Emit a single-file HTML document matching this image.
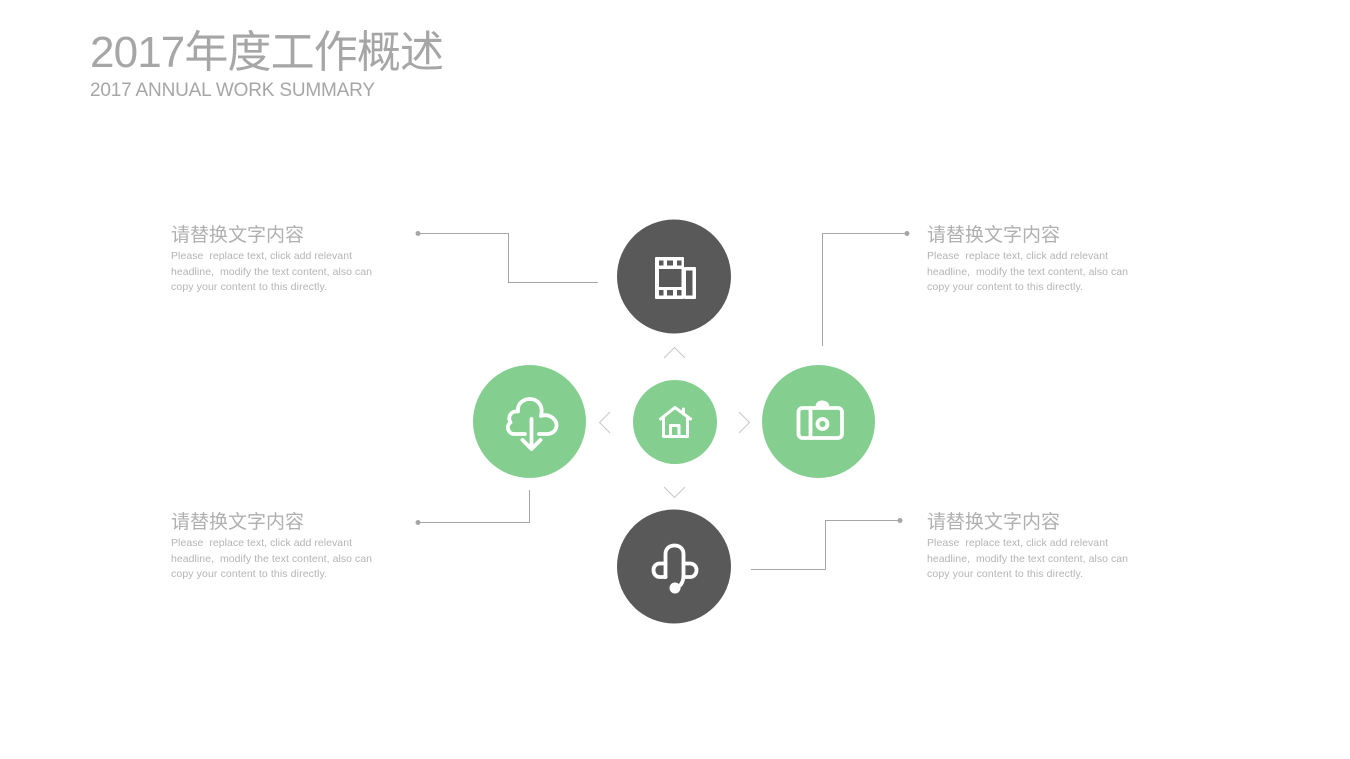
<!DOCTYPE html>
<html lang="zh">
<head>
<meta charset="utf-8">
<title>2017年度工作概述</title>
<style>
html,body{margin:0;padding:0;background:#fff;width:1350px;height:759px;overflow:hidden}
svg{display:block}
text{font-family:"Liberation Sans","Noto Sans CJK SC",sans-serif}
.h{font-size:19px;fill:#b0b0b0}
.b{font-size:10.5px;fill:#b4b4b4}
.ln{fill:none;stroke:#a6a6a6;stroke-width:1}
.ch{fill:none;stroke:#c4c4c4;stroke-width:.9}
.ic{fill:none;stroke:#fff;stroke-linejoin:round;stroke-linecap:round}
</style>
</head>
<body>
<svg width="1350" height="759" viewBox="0 0 1350 759" xmlns="http://www.w3.org/2000/svg">
<rect width="1350" height="759" fill="#fff"/>

<text x="90" y="67" font-size="44" fill="#a6a6a6" textLength="354" lengthAdjust="spacing">2017年度工作概述</text>
<text x="90" y="96" font-size="19" fill="#a6a6a6" textLength="285" lengthAdjust="spacing">2017 ANNUAL WORK SUMMARY</text>

<!-- top-left text -->
<text class="h" x="171" y="241" textLength="133">请替换文字内容</text>
<text class="b" x="171" y="259" textLength="181">Please&#160; replace text, click add relevant</text>
<text class="b" x="171" y="275" textLength="201">headline,&#160; modify the text content, also can</text>
<text class="b" x="171" y="290" textLength="156">copy your content to this directly.</text>
<!-- top-right text -->
<text class="h" x="927" y="241" textLength="133">请替换文字内容</text>
<text class="b" x="927" y="259" textLength="181">Please&#160; replace text, click add relevant</text>
<text class="b" x="927" y="275" textLength="201">headline,&#160; modify the text content, also can</text>
<text class="b" x="927" y="290" textLength="156">copy your content to this directly.</text>
<!-- bottom-left text -->
<text class="h" x="171" y="528" textLength="133">请替换文字内容</text>
<text class="b" x="171" y="546" textLength="181">Please&#160; replace text, click add relevant</text>
<text class="b" x="171" y="562" textLength="201">headline,&#160; modify the text content, also can</text>
<text class="b" x="171" y="577" textLength="156">copy your content to this directly.</text>
<!-- bottom-right text -->
<text class="h" x="927" y="528" textLength="133">请替换文字内容</text>
<text class="b" x="927" y="546" textLength="181">Please&#160; replace text, click add relevant</text>
<text class="b" x="927" y="562" textLength="201">headline,&#160; modify the text content, also can</text>
<text class="b" x="927" y="577" textLength="156">copy your content to this directly.</text>

<!-- connectors -->
<path class="ln" d="M418 233.5H508.5V282.5H598"/>
<circle cx="418" cy="233.5" r="2.5" fill="#a6a6a6"/>
<path class="ln" d="M907 233.5H822.5V346"/>
<circle cx="907" cy="233.5" r="2.5" fill="#a6a6a6"/>
<path class="ln" d="M418 522.5H529.5V490"/>
<circle cx="418" cy="522.5" r="2.5" fill="#a6a6a6"/>
<path class="ln" d="M900 520.5H825.5V569.5H751"/>
<circle cx="900" cy="520.5" r="2.5" fill="#a6a6a6"/>

<!-- chevrons -->
<path class="ch" d="M664 358L674.500 347.500L685 358"/>
<path class="ch" d="M664 487L674.500 497.500L685 487"/>
<path class="ch" d="M610 412L599.500 422.500L610 433"/>
<path class="ch" d="M739 412L749.500 422.500L739 433"/>

<!-- circles -->
<circle cx="674" cy="276.500" r="57" fill="#595959"/>
<circle cx="674" cy="566.500" r="57" fill="#595959"/>
<circle cx="529.500" cy="421.500" r="56.500" fill="#84cf8f"/>
<circle cx="818.500" cy="421.500" r="56.500" fill="#84cf8f"/>
<circle cx="675" cy="422" r="42" fill="#84cf8f"/>

<!-- film icon -->
<rect x="655" y="257" width="29" height="42" rx="1" fill="#fff"/>
<rect x="684" y="267" width="12" height="32" rx="1" fill="#fff"/>
<g fill="#595959">
<rect x="659" y="260.500" width="4.500" height="5"/><rect x="667" y="260.500" width="6" height="5"/><rect x="677" y="260.500" width="4.500" height="5"/>
<rect x="659" y="290" width="4.500" height="5.500"/><rect x="667" y="290" width="6" height="5.500"/><rect x="677" y="290" width="4.500" height="5.500"/>
<rect x="659" y="269" width="22.500" height="18"/>
<rect x="686" y="270.500" width="6.500" height="25"/>
</g>

<!-- cloud download icon -->
<g class="ic" style="stroke-width:3.8">
<path d="M525 434H514.500C508 434 505.500 426 510.500 422.500C507 416.500 511.500 410.500 518 411.500C517 403 524 399 530 399C538 399 543.500 406 541 416C549.500 413 557 419.500 556.500 426C556 431 552 434 547 434H539"/>
<path d="M531.500 419V448M522.500 440L531.500 449L540.500 440"/>
</g>

<!-- home icon -->
<g class="ic" style="stroke-width:3">
<path d="M660.500 419L675 407.500L690.500 419"/>
<path d="M663.500 417V436.500H687.500V417"/>
<path d="M683.500 414V409"/>
<path d="M670.500 436.500V425.500H679V436.500"/>
</g>

<!-- camera icon -->
<g class="ic" style="stroke-width:3.800">
<rect x="798.500" y="408" width="43.500" height="30" rx="4"/>
<path d="M810.500 408V438"/>
<circle cx="822.500" cy="424" r="5"/>
</g>
<path d="M815.500 407C815.500 403 818 400.500 822 400.500C826 400.500 829.500 403 829.500 407Z" fill="#fff"/>

<!-- headset icon -->
<g class="ic" style="stroke-width:3.800">
<path d="M665.500 577V554C665.500 549 669 545.500 674.500 545.500C680 545.500 683.500 549 683.500 554V575C683.500 583 680 587 675 588"/>
<path d="M665.500 563.500H659.500C656 563.500 653.500 566.500 653.500 570C653.500 574 656 577 659.500 577H665.500"/>
<path d="M683.500 563.500H690C694 563.500 696.500 566.500 696.500 570C696.500 574 694 577 690 577H683.500"/>
</g>
<circle cx="675" cy="588" r="5.500" fill="#fff"/>
</svg>
</body>
</html>
